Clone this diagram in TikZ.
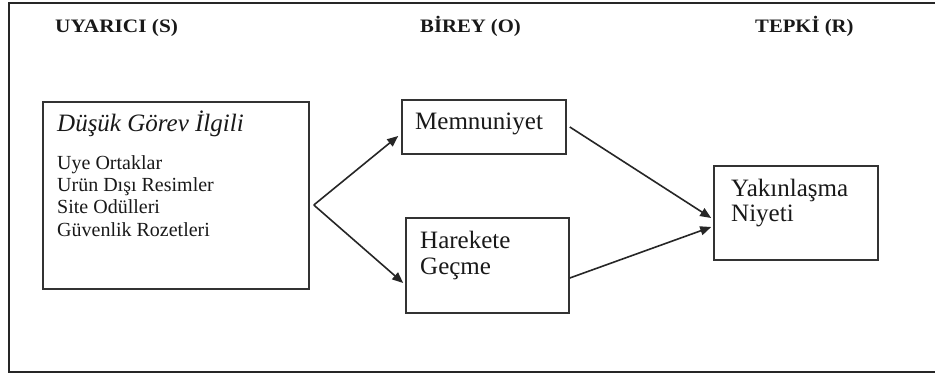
\documentclass[tikz,border=0pt]{standalone}
\usepackage{fontspec}
\setmainfont{Liberation Serif}
\usetikzlibrary{arrows.meta,calc}
\tikzset{
  box/.style={draw=black!80, line width=1.6pt, inner sep=0pt, fill=none},
  txt/.style={anchor=base west, inner sep=0pt, text=black!90},
  body/.style={txt, font=\fontsize{25}{25}\selectfont, align=left},
  small/.style={txt, font=\fontsize{20}{22}\selectfont, align=left},
  head/.style={txt, font=\fontsize{19}{20}\selectfont\bfseries},
  arr/.style={draw=black!85, line width=1.6pt, -{Triangle[length=11pt,width=9pt]}},
}
\begin{document}
\begin{tikzpicture}[x=1pt,y=-1pt]
\useasboundingbox (0,0) rectangle (935,374);
\fill[white] (0,0) rectangle (935,374);
\draw[black!85, line width=2.2pt] (9,3) rectangle (945,372);

% headers
\node[head] (hS) at (55,33) {\scalebox{1.12}[1]{UYARICI (S)}};
\node[head] (hO) at (420,33) {\scalebox{1.09}[1]{BİREY (O)}};
\node[head] (hR) at (755,33) {\scalebox{1.09}[1]{TEPKİ (R)}};

% boxes
\node[box, minimum width=266pt, minimum height=187pt] (left) at (176,195.5) {};
\node[box, minimum width=164pt, minimum height=54pt] (memn) at (484,127) {};
\node[box, minimum width=163pt, minimum height=95pt] (hare) at (487.5,265.5) {};
\node[box, minimum width=164pt, minimum height=94pt] (yak) at (796,213) {};

% texts
\node[body] (tL) at (57,132) {\itshape Düşük Görev İlgili};
\node[small] (l1) at (57,170) {Uye Ortaklar};
\node[small] (l2) at (57,192) {Urün Dışı Resimler};
\node[small] (l3) at (57,214) {Site Odülleri};
\node[small] (l4) at (57,236.5) {Güvenlik Rozetleri};
\node[body] (tM) at (415,130) {Memnuniyet};
\node[body] (tH1) at (420,249) {Harekete};
\node[body] (tH2) at (420,275) {Geçme};
\node[body] (tY1) at (731,197) {Yakınlaşma};
\node[body] (tY2) at (731,222) {Niyeti};

% connectors
\coordinate (split) at ($(left.east)+(4,9.5)$);
\coordinate (mIn) at ($(memn.west)+(-3,9)$);
\coordinate (hIn) at ($(hare.west)+(-2,17.5)$);
\coordinate (mOut) at ($(memn.east)+(3,0)$);
\coordinate (hOut) at ($(hare.east)+(0,12.5)$);
\coordinate (yIn1) at ($(yak.west)+(-2,5)$);
\coordinate (yIn2) at ($(yak.west)+(-2,14)$);
\draw[arr] (split) -- (mIn);
\draw[arr] (split) -- (hIn);
\draw[arr] (mOut) -- (yIn1);
\draw[arr] (hOut) -- (yIn2);
\end{tikzpicture}
\end{document}
